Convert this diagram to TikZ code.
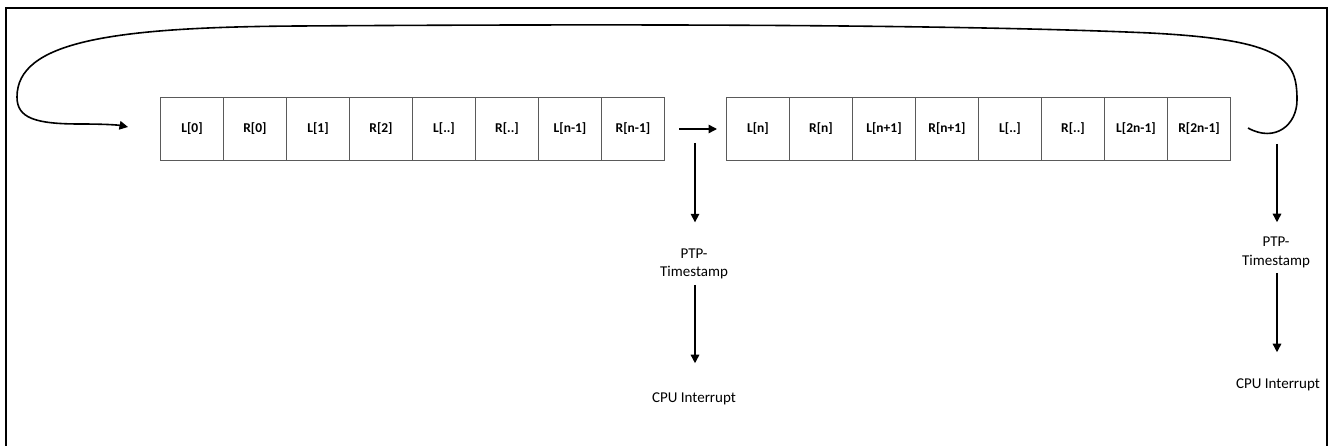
\documentclass[tikz,border=0pt]{standalone}
\usepackage{fontspec}
\setmainfont{Carlito}
\usetikzlibrary{arrows.meta}
\definecolor{cellgray}{RGB}{90,90,90}
\begin{document}
\begin{tikzpicture}[x=1pt,y=-1pt,
  cell/.style={draw=cellgray, line width=1pt, minimum width=63pt, minimum height=63pt,
    inner sep=0pt, anchor=north west, font=\fontsize{13.5}{16}\selectfont\bfseries},
  conn/.style={line width=1.5pt, -{Triangle[length=8.5pt,width=8.5pt]}},
  loopline/.style={line width=1.6pt, -{Triangle[length=8.5pt,width=8.5pt]}},
  lbl/.style={font=\fontsize{15}{18.3}\selectfont, align=center, inner sep=0pt},
  frame/.style={line width=2.3pt}]
\useasboundingbox (0,0) rectangle (1330,446);
\draw[frame] (6,460) -- (6,8) -- (1327,8) -- (1327,460);
% first buffer
\foreach \t [count=\i from 0] in {L[0],R[0],L[1],R[2],L[..],R[..],L[n-1],R[n-1]}
  \node[cell] (a\i) at (160+63*\i,97) {\t};
% second buffer
\foreach \t [count=\i from 0] in {L[n],R[n],L[n+1],R[n+1],L[..],R[..],L[2n-1],R[2n-1]}
  \node[cell] (b\i) at (726+63*\i,97) {\t};
% arrow between buffers
\draw[conn, shorten <=14pt, shorten >=9pt] (a7.east) -- (b0.west);
% loop back
\coordinate (loopstart) at (1248,128);
\coordinate (loopend) at (128,127);
\draw[loopline] (loopstart) .. controls (1275,143) and (1297,125) .. (1297,100)
  .. controls (1297,60) and (1285,40) .. (1150,33)
  .. controls (950,24) and (600,24) .. (300,26)
  .. controls (110,27) and (17,42) .. (17,97)
  .. controls (17,118) and (35,124) .. (80,124)
  .. controls (105,124) and (118,125) .. (loopend);
% timestamps and interrupts
\coordinate (s1) at (695,143);
\coordinate (s2) at (1277,144);
\node[lbl] (ts1) at (694,263.7) {PTP-\\Timestamp};
\node[lbl] (ts2) at (1276,252.4) {PTP-\\Timestamp};
\node[lbl] (cpu1) at (694,398.5) {CPU Interrupt};
\node[lbl] (cpu2) at (1278,384.5) {CPU Interrupt};
\draw[conn, shorten >=26pt] (s1) -- (s1 |- ts1.north);
\draw[conn, shorten >=14.8pt] (s2) -- (s2 |- ts2.north);
\draw[conn, shorten <=5.7pt, shorten >=29pt] (s1 |- ts1.south) -- (s1 |- cpu1.north);
\draw[conn, shorten <=5.1pt, shorten >=26pt] (s2 |- ts2.south) -- (s2 |- cpu2.north);
\end{tikzpicture}
\end{document}
